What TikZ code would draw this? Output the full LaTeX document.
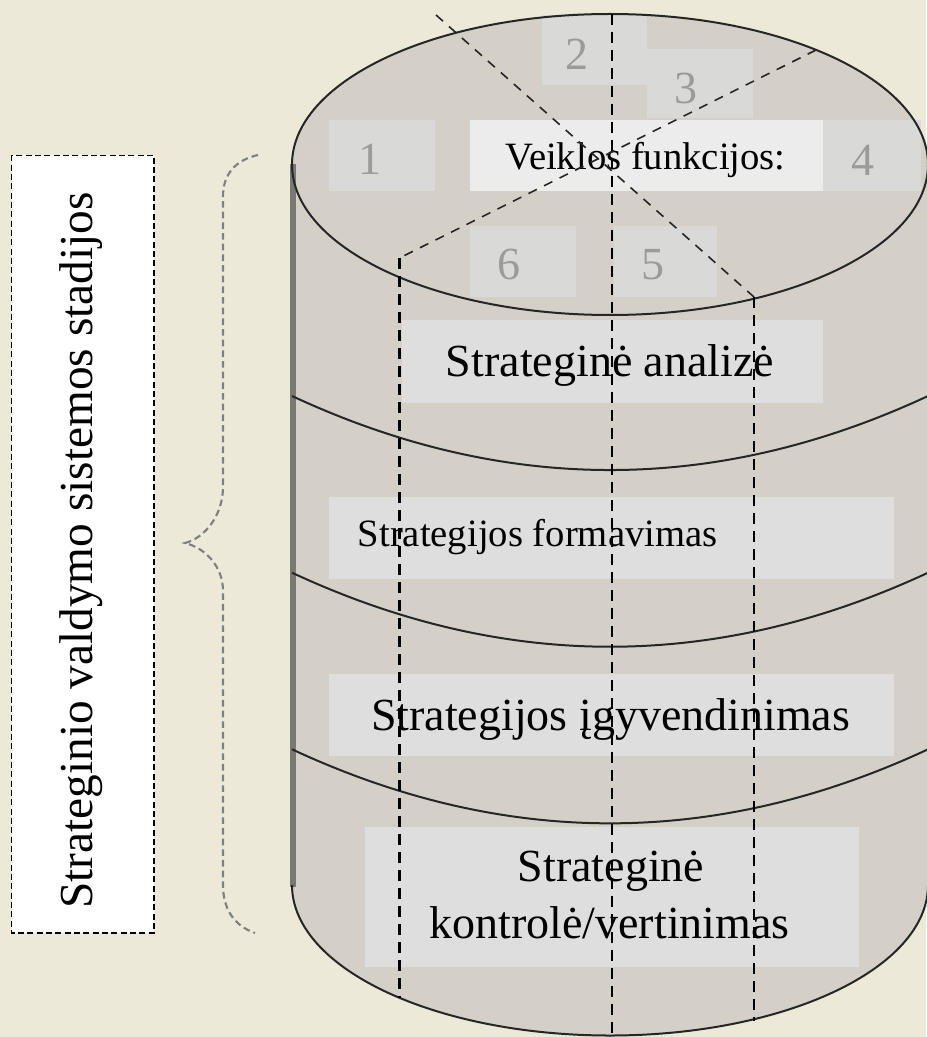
\documentclass[tikz,border=0pt]{standalone}
\usepackage{fontspec}
\setmainfont{Liberation Serif}
\definecolor{bg}{RGB}{236,233,216}
\definecolor{drum}{RGB}{212,208,200}
\definecolor{pane}{RGB}{222,222,222}
\definecolor{numpane}{RGB}{217,217,215}
\definecolor{toppane}{RGB}{236,236,236}
\definecolor{rim}{RGB}{122,120,114}
\definecolor{digit}{RGB}{155,155,155}
\tikzset{
  cut/.style={dash pattern=on 8pt off 5.5pt, line width=1.6pt},
  slant/.style={dash pattern=on 7pt off 6pt, line width=1.2pt, black!85},
  band/.style={line width=1.5pt, black!85},
  stage/.style={inner sep=0pt, anchor=base, font=\fontsize{34.5}{42.5}\selectfont},
  small/.style={inner sep=0pt, anchor=base, font=\fontsize{29}{34}\selectfont},
  num/.style={inner sep=0pt, anchor=base, text=digit, font=\fontsize{34.5}{40}\selectfont},
}
\begin{document}
\begin{tikzpicture}[x=0.75pt,y=-0.75pt]
\useasboundingbox (0,0) rectangle (926,1037);
\fill[bg] (0,0) rectangle (926,1037);
% drum body
\fill[drum] (292,164.5) -- (292,885) arc[start angle=180, end angle=0, x radius=318, y radius=150.5] -- (928,164.5) -- cycle;
\fill[drum] (610,164.5) ellipse[x radius=318, y radius=150.5];
\draw[rim, line width=4pt] (293,164.5) -- (293,887);
\draw[band] (292,885) arc[start angle=180, end angle=0, x radius=318, y radius=150.5];
\foreach \b in {470,646.7,823.3}
  \draw[band] (292,\b-74) .. controls (504,\b+24.7) and (716,\b+24.7) .. (928,\b-74);
% panes of the top
\foreach \xa/\ya/\xb/\yb/\xt/\yt/\n in {328.6/120/434.5/190.7/370/175/1, 541.6/15/646.7/85/577/69.3/2,
    646.7/49/753/118/686/103.3/3, 823/120/921/190.7/863/176/4,
    613.7/226/716.8/296.7/653/280/5, 469.5/226/575.8/296.7/509/280/6}{
  \fill[numpane] (\xa,\ya) rectangle (\xb,\yb);
  \node[num] (d\n) at (\xt,\yt) {\n};
}
\fill[toppane] (469.5,120) rectangle (823,190.7);
\node[small] (funkcijos) at (645.5,170) {Veiklos funkcijos:};
\draw[band] (610,164.5) ellipse[x radius=318, y radius=150.5];
% stages
\fill[pane] (401.5,320) rectangle (823,402.7);
\node[stage] (analize) at (610,376) {Strateginė analizė};
\fill[pane] (329.4,496.7) rectangle (894,579.3);
\node[small, anchor=base west] (formavimas) at (357.5,546.7) {Strategijos formavimas};
\fill[pane] (329.4,674) rectangle (894,756);
\node[stage] (igyvendinimas) at (610.6,730) {Strategijos įgyvendinimas};
\fill[pane] (364.5,826.7) rectangle (859,967.3);
\node[stage] (kontrole1) at (611,881.7) {Strateginė};
\node[stage] (kontrole2) at (609.5,938.3) {kontrolė/vertinimas};
% cuts
\coordinate (c1) at (612,14);
\coordinate (c2) at (612,1037);
\coordinate (s1) at (436,15);
\coordinate (s2) at (754,297);
\coordinate (s3) at (754,1021);
\coordinate (t1) at (816,50);
\coordinate (t2) at (399.5,258);
\coordinate (t3) at (399.5,998);
\draw[cut] (c1) -- (c2);
\draw[slant] (s1) -- (s2);
\draw[cut] (s2) -- (s3);
\draw[slant] (t1) -- (t2);
\draw[cut] (t2) -- (t3);
% stages label and brace
\draw[fill=white, line width=1.1pt, dash pattern=on 4.5pt off 2.5pt] (11.7,155.3) rectangle (154,933);
\node[inner sep=0pt, anchor=base, rotate=90, font=\fontsize{35.5}{40}\selectfont] (stadijos) at (92.7,550.5) {Strateginio valdymo sistemos stadijos};
\draw[gray, line width=1.6pt, dash pattern=on 5pt off 3pt] (258,155) .. controls (235,160) and (223,175) .. (223,196) -- (223,487)
  .. controls (223,515) and (205,538) .. (185,543) .. controls (205,548) and (223,566) .. (223,591) -- (223,885)
  .. controls (223,910) and (235,926) .. (255,933);
\end{tikzpicture}
\end{document}
